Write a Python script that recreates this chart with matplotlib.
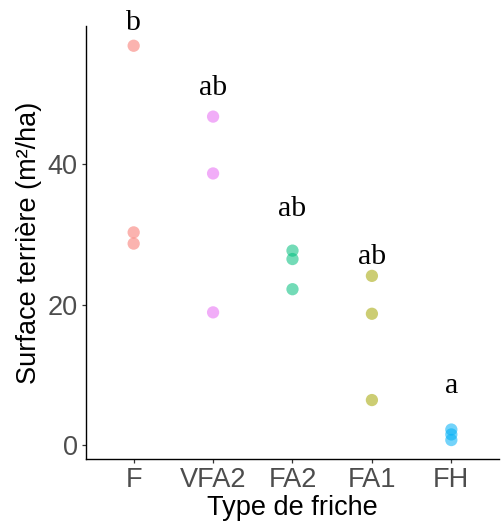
import matplotlib.pyplot as plt
import numpy as np

# data
categories = ['F', 'VFA2', 'FA2', 'FA1', 'FH']
surface_values = [
    [56.9, 30.3, 28.7],
    [46.8, 38.7, 18.9],
    [27.7, 26.5, 22.2],
    [24.1, 18.7, 6.4],
    [2.2, 1.5, 0.7],
]
letters = ['b', 'ab', 'ab', 'ab', 'a']
letter_y = [59.1, 49.9, 32.6, 25.8, 7.4]
colors = ['#F8766D', '#E76BF3', '#00BF7D', '#A3A500', '#00B0F6']

plt.rcParams['font.family'] = ['Liberation Sans', 'DejaVu Sans']

fig = plt.figure(figsize=(5.03, 5.22), dpi=100)
ax = fig.add_axes([0.171, 0.1207, 0.821, 0.8293])

x_pos = np.arange(1, len(categories) + 1)
for i, vals in enumerate(surface_values):
    ax.scatter([x_pos[i]] * len(vals), vals, s=78, color=colors[i],
               alpha=0.55, edgecolors='none', zorder=3)
    ax.text(x_pos[i], letter_y[i], letters[i], ha='center', va='baseline',
            fontsize=21.5, family='Liberation Serif', color='black')

ax.set_xlim(0.4, 5.6)
ax.set_ylim(-2.0, 59.7)
ax.set_xticks(x_pos)
ax.set_xticklabels(categories)
ax.set_yticks([0, 20, 40])

ax.spines['top'].set_visible(False)
ax.spines['right'].set_visible(False)
ax.spines['left'].set_linewidth(1.0)
ax.spines['bottom'].set_linewidth(1.0)

ax.tick_params(axis='both', labelsize=19.5, labelcolor='#4D4D4D',
               color='#333333', length=3, width=0.9, pad=3)

ax.set_xlabel('Type de friche', fontsize=19.5, labelpad=1)
ax.set_ylabel('Surface terrière (m²/ha)', fontsize=19.5, labelpad=4)

fig.savefig('out.png', dpi=100)
